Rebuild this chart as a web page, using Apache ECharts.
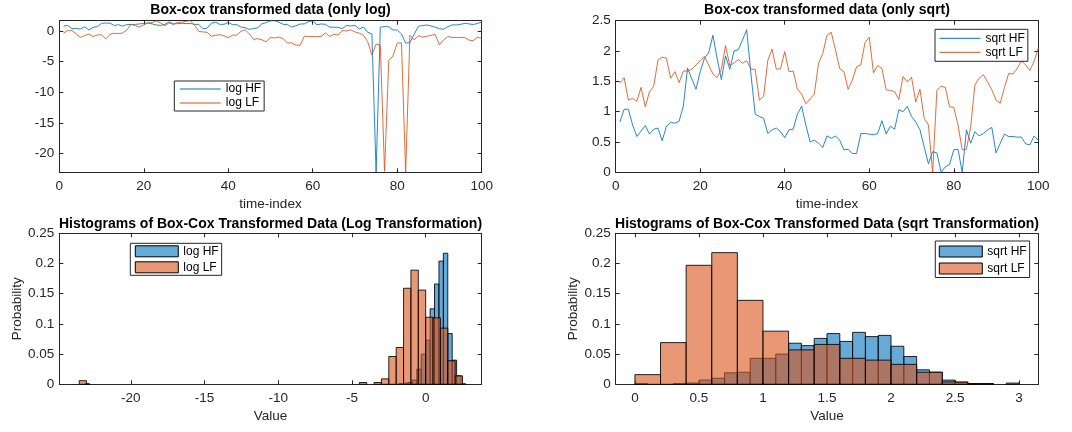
<!DOCTYPE html>
<html>
<head>
<meta charset="utf-8">
<script src="https://cdn.jsdelivr.net/npm/echarts@6/dist/echarts.min.js"></script>
<style>
html,body{margin:0;padding:0;background:#fff;}
#chart{width:1072px;height:432px;}
</style>
</head>
<body>
<div id="chart"></div>
<script>
// ---------- DATA ----------
const timeIndex = Array.from({length: 100}, (_, i) => i + 1);

const logHF = [0.77,0.89,0.35,0.40,0.31,0.67,0.15,0.57,0.70,1.23,
 1.28,1.26,0.88,1.01,0.78,1.03,1.03,1.06,1.14,1.22,
 1.29,1.14,0.96,0.89,1.06,1.47,1.13,1.18,1.24,1.18,
 1.22,1.06,1.06,0.35,0.45,1.23,1.42,1.06,1.07,1.38,
 1.01,1.03,0.63,0.51,0.24,0.38,0.51,1.18,1.35,1.63,
 1.65,1.41,1.07,1.01,0.63,0.84,1.11,1.14,1.52,1.60,
 0.99,1.13,1.07,0.61,0.60,0.57,0.36,0.91,0.80,0.90,
 0.30,0.63,-0.23,-0.50,-23.0,0.60,0.70,0.67,0.15,0.14,
 -0.50,-1.99,-1.94,-0.58,0.73,0.88,0.95,0.80,0.61,0.35,
 0.26,0.67,0.98,0.96,1.07,1.22,1.14,1.04,1.21,1.44];

const logLF = [-0.37,0.08,0.08,-0.50,-1.06,-0.77,-0.52,-0.92,-0.68,-0.63,
 -1.31,-0.55,-0.40,-0.42,-0.35,0.17,1.08,0.86,0.63,1.01,
 1.26,1.36,1.63,1.26,0.85,1.30,1.06,1.39,1.41,1.56,
 1.66,0.96,-0.08,-0.17,-0.23,-0.89,-0.71,-0.63,-0.80,-1.12,
 -0.71,-0.68,-0.08,0.17,-0.50,-1.39,-1.27,-1.47,-1.78,-1.02,
 -1.16,-1.02,-1.27,-1.99,-1.94,-2.34,-2.34,-0.89,-0.89,-0.92,
 -0.96,-0.89,-0.33,-0.92,-0.55,-0.68,0.06,0.00,0.17,-0.17,
 -0.37,-0.71,-1.74,-3.93,-2.16,-2.28,-22.9,-4.82,-4.08,-1.99,
 -1.94,-23.06,-0.71,-1.47,-0.80,-1.02,-0.89,-0.71,-0.60,-2.28,
 -1.47,-0.92,-1.06,-1.06,-1.09,-1.09,-1.51,-1.60,-1.02,-1.27];

const sqrtHF = [0.83,1.04,1.04,0.78,0.59,0.68,0.77,0.63,0.71,0.73,
 0.52,0.76,0.82,0.81,0.84,1.09,1.72,1.54,1.37,1.66,
 1.88,1.97,2.26,1.88,1.53,1.92,1.70,2.00,2.02,2.18,
 2.35,1.62,0.96,0.92,0.89,0.64,0.70,0.73,0.67,0.57,
 0.70,0.71,0.96,1.09,0.78,0.50,0.53,0.48,0.41,0.60,
 0.56,0.60,0.53,0.37,0.38,0.31,0.31,0.64,0.64,0.63,
 0.62,0.64,0.85,0.63,0.76,0.71,1.03,1.00,1.09,0.92,
 0.83,0.70,0.42,0.14,0.34,0.32,0.00,0.09,0.13,0.37,
 0.38,0.00,0.70,0.48,0.67,0.60,0.64,0.70,0.74,0.32,
 0.48,0.63,0.59,0.59,0.58,0.58,0.47,0.45,0.60,0.53];

const sqrtLF = [1.47,1.56,1.19,1.22,1.17,1.40,1.08,1.33,1.42,1.85,
 1.90,1.88,1.55,1.66,1.48,1.67,1.67,1.70,1.77,1.84,
 1.91,1.77,1.62,1.56,1.70,2.09,1.76,1.80,1.86,1.80,
 1.84,1.70,1.70,1.19,1.25,1.85,2.03,1.70,1.71,1.99,
 1.66,1.67,1.37,1.29,1.13,1.21,1.29,1.80,1.96,2.26,
 2.31,2.02,1.71,1.66,1.37,1.52,1.74,1.77,2.14,2.23,
 1.64,1.76,1.71,1.36,1.35,1.33,1.20,1.58,1.49,1.57,
 1.16,1.37,0.89,0.78,0.00,1.35,1.42,1.40,1.08,1.07,
 0.78,0.37,0.38,0.75,1.44,1.55,1.61,1.49,1.36,1.19,
 1.14,1.40,1.63,1.62,1.71,1.84,1.77,1.68,1.83,2.05];

// Histograms (bin left edges, bin width, probabilities)
const histLogHFEdges = [-23.1,-1.8,-1.5,-1.2,-0.9,-0.6,-0.3,0.0,0.3,0.6,0.9,1.2,1.5,1.8,2.1,2.4];
const histLogHFWidth = 0.3;
const histLogHFProb  = [0.001,0.001,0.002,0.003,0.007,0.025,0.050,0.073,0.125,0.166,0.204,0.217,0.084,0.040,0.014,0.001];

const histLogLFEdges = [-23.5,-4.5,-3.5,-3.0,-2.5,-2.0,-1.5,-1.0,-0.5,0.0,0.5,1.0,1.5,2.0];
const histLogLFWidth = 0.5;
const histLogLFProb  = [0.006,0.003,0.003,0.009,0.046,0.061,0.159,0.189,0.156,0.111,0.110,0.093,0.039,0.014];

const histSqrtHFEdges = [0.0,0.3,0.4,0.5,0.6,0.7,0.8,0.9,1.0,1.1,1.2,1.3,1.4,1.5,1.6,1.7,1.8,1.9,2.0,2.1,2.2,2.3,2.4,2.5,2.6,2.7,2.9];
const histSqrtHFWidth = 0.1;
const histSqrtHFProb  = [0.001,0.001,0.002,0.007,0.010,0.019,0.020,0.043,0.043,0.050,0.068,0.064,0.076,0.084,0.071,0.086,0.079,0.081,0.063,0.046,0.024,0.020,0.007,0.003,0.001,0.001,0.002];

const histSqrtLFEdges = [0.0,0.2,0.4,0.6,0.8,1.0,1.2,1.4,1.6,1.8,2.0,2.2,2.4,2.6];
const histSqrtLFWidth = 0.2;
const histSqrtLFProb  = [0.016,0.069,0.197,0.218,0.139,0.088,0.057,0.066,0.043,0.040,0.033,0.020,0.004,0.001];

const titles = ['Box-cox transformed data (only log)', 'Box-cox transformed data (only sqrt)',
  'Histograms of Box-Cox Transformed Data (Log Transformation)', 'Histograms of Box-Cox Transformed Data (sqrt Transformation)'];

// ---------- STYLE ----------
const FONT = '"Liberation Sans", Arial, Helvetica, sans-serif';
const AX = '#262626';
const BLUE = '#0072BD', ORANGE = '#D95319';
const BLUE_F = 'rgba(0,114,189,0.6)', ORANGE_F = 'rgba(217,83,25,0.6)';

const grids = [
  {left: 59.3, top: 20.7, width: 422.4, height: 151.6},
  {left: 615.7, top: 20.7, width: 422.6, height: 151.6},
  {left: 59.3, top: 233.3, width: 422.4, height: 151},
  {left: 615.7, top: 233.3, width: 422.6, height: 151}
];

const xCfg = [
  {min: 0, max: 100, interval: 20, name: 'time-index'},
  {min: 0, max: 100, interval: 20, name: 'time-index'},
  {min: -24.85, max: 3.8, custom: [-20,-15,-10,-5,0], name: 'Value'},
  {min: -0.15, max: 3.15, custom: [0,0.5,1,1.5,2,2.5,3], name: 'Value'}
];
const yCfg = [
  {min: -23.06, max: 1.66, custom: [-20,-15,-10,-5,0], name: ''},
  {min: 0, max: 2.5, interval: 0.5, name: ''},
  {min: 0, max: 0.25, interval: 0.05, name: 'Probability'},
  {min: 0, max: 0.25, interval: 0.05, name: 'Probability'}
];

function axisBase(c, gi, isX, mirror) {
  const a = {
    type: 'value', gridIndex: gi, min: c.min, max: c.max,
    position: isX ? (mirror ? 'top' : 'bottom') : (mirror ? 'right' : 'left'),
    axisLine: {show: true, onZero: false, lineStyle: {color: AX, width: 1}},
    axisTick: {show: true, inside: true, length: 4, lineStyle: {color: AX, width: 1}},
    axisLabel: {show: !mirror, color: AX, fontFamily: FONT, fontSize: 13.5, margin: isX ? 7 : 5},
    splitLine: {show: false}
  };
  if (c.interval !== undefined) a.interval = c.interval;
  if (c.custom) {
    a.axisTick.customValues = c.custom;
    a.axisLabel.customValues = c.custom;
  }
  if (!mirror && c.name) {
    a.name = c.name;
    a.nameLocation = 'middle';
    a.nameTextStyle = {color: AX, fontFamily: FONT, fontSize: 13.5};
    if (isX) { a.nameGap = 25; } else { a.nameGap = 31.5; a.nameRotate = 90; }
  }
  return a;
}

const xAxes = [], yAxes = [];
for (let g = 0; g < 4; g++) {
  xAxes.push(axisBase(xCfg[g], g, true, false));
  yAxes.push(axisBase(yCfg[g], g, false, false));
}
for (let g = 0; g < 4; g++) {
  xAxes.push(axisBase(xCfg[g], g, true, true));
  yAxes.push(axisBase(yCfg[g], g, false, true));
}

function lineSeries(name, values, color, gi) {
  return {
    type: 'line', name: name, xAxisIndex: gi, yAxisIndex: gi,
    data: timeIndex.map((t, k) => [t, values[k]]),
    symbol: 'none', showSymbol: false, animation: false,
    lineStyle: {color: color, width: 0.85}, itemStyle: {color: color}
  };
}

function histSeries(name, edges, width, probs, fill, gi) {
  return {
    type: 'custom', name: name, xAxisIndex: gi, yAxisIndex: gi,
    data: edges.map((e, k) => [e, e + width, probs[k]]),
    encode: {x: [0, 1], y: 2},
    itemStyle: {color: fill, borderColor: '#000', borderWidth: 1},
    renderItem: function (params, api) {
      const p0 = api.coord([api.value(0), api.value(2)]);
      const p1 = api.coord([api.value(1), 0]);
      return {
        type: 'rect',
        shape: {x: p0[0], y: p0[1], width: p1[0] - p0[0], height: p1[1] - p0[1]},
        style: {fill: fill, stroke: 'rgba(0,0,0,0.85)', lineWidth: 1}
      };
    }
  };
}

const series = [
  lineSeries('log HF', logHF, BLUE, 0),
  lineSeries('log LF', logLF, ORANGE, 0),
  lineSeries('sqrt HF', sqrtHF, BLUE, 1),
  lineSeries('sqrt LF', sqrtLF, ORANGE, 1),
  histSeries('h log HF', histLogHFEdges, histLogHFWidth, histLogHFProb, BLUE_F, 2),
  histSeries('h log LF', histLogLFEdges, histLogLFWidth, histLogLFProb, ORANGE_F, 2),
  histSeries('h sqrt HF', histSqrtHFEdges, histSqrtHFWidth, histSqrtHFProb, BLUE_F, 3),
  histSeries('h sqrt LF', histSqrtLFEdges, histSqrtLFWidth, histSqrtLFProb, ORANGE_F, 3)
];

function legendCfg(names, left, top, isHist, itemHeight, itemGap, pad) {
  const l = {
    data: names, left: left, top: top, orient: 'vertical',
    backgroundColor: '#fff', borderColor: AX, borderWidth: 1, borderRadius: 0,
    padding: pad, itemGap: itemGap, itemWidth: isHist ? 43 : 41, itemHeight: itemHeight,
    selectedMode: false,
    formatter: function (n) { return n.replace(/^h /, ''); },
    textStyle: {color: '#000', fontFamily: FONT, fontSize: 12}
  };
  if (isHist) {
    l.icon = 'rect';
    l.itemStyle = {borderColor: '#000', borderWidth: 1};
  } else {
    l.itemStyle = {opacity: 0, borderWidth: 0};
    l.lineStyle = {width: 1};
  }
  return l;
}

const legends = [
  legendCfg(['log HF', 'log LF'], 174.3, 81, false, 14, 2, [2, 3, 2, 5]),
  legendCfg(['sqrt HF', 'sqrt LF'], 935, 29.3, false, 13, 2, [3, 3, 3, 4]),
  legendCfg(['h log HF', 'h log LF'], 130.3, 243.3, true, 11, 4, [2, 3, 2, 4.5]),
  legendCfg(['h sqrt HF', 'h sqrt LF'], 935.3, 241, true, 11, 5, [4.5, 3, 3, 3.5])
];

const titleCfg = titles.map((t, g) => ({
  text: t, left: grids[g].left + grids[g].width / 2, top: g < 2 ? 3 : 217, textAlign: 'center', padding: 0,
  textStyle: {color: '#000', fontFamily: FONT, fontSize: 14, fontWeight: 'bold'}
}));

const chart = echarts.init(document.getElementById('chart'), null, {renderer: 'canvas'});
chart.setOption({
  animation: false,
  backgroundColor: '#fff',
  title: titleCfg,
  grid: grids,
  xAxis: xAxes,
  yAxis: yAxes,
  legend: legends,
  series: series
});
</script>
</body>
</html>
